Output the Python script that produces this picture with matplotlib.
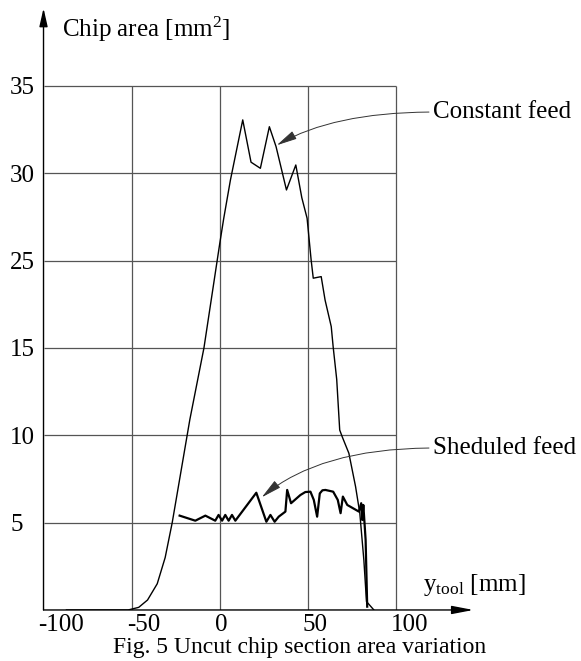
import matplotlib
matplotlib.use("Agg")
import matplotlib.pyplot as plt
from matplotlib.transforms import ScaledTranslation

plt.rcParams['font.family'] = ['Liberation Serif', 'DejaVu Serif']
plt.rcParams['mathtext.fontset'] = 'custom'
plt.rcParams['mathtext.rm'] = 'Liberation Serif'
plt.rcParams['mathtext.it'] = 'Liberation Serif:italic'

# ticks (the source figure skips "20" on the area axis)
x_ticks = [-100, -50, 0, 50, 100]
x_tick_labels = ['-100', '-50', '0', '50', '100']
y_ticks = [5, 10, 15, 20, 25, 30]
y_tick_labels = ['5', '10', '15', '25', '30', '35']

# constant feed curve
const_x = [-87, -52, -46, -41, -35.5, -31, -27, -17, -9, 0, 2.2, 6, 13, 17.7, 23, 28.1,
           31.9, 37.8, 43.1, 46.5, 49.5, 51.8, 53, 57.5, 59.7, 63.2, 64.3, 66.3, 68,
           69.4, 73.2, 77, 79.4, 81.7, 83.2, 87.4]
const_y = [0, 0, 0.15, 0.57, 1.5, 3.0, 5.0, 10.9, 15.0, 21.0, 22.4, 24.6, 28.05, 25.63, 25.28, 27.66,
           26.52, 24.04, 25.47, 23.6, 22.42, 20.03, 18.99, 19.08, 17.74, 16.22, 15.05, 13.2, 10.3,
           9.92, 8.97, 7.06, 5.54, 2.86, 0.48, 0]

# scheduled feed curve
sched_x = [-22.8, -13.9, -8.2, -2.6, -0.7, 1.3, 3.1, 5.0, 6.9, 8.8, 20.7, 26.4, 28.7, 31.1,
           33.4, 37.2, 38.2, 40.4, 45.7, 48.5, 51.4, 53.3, 55.2, 56.7, 58.2, 59.9, 64.3, 66.9,
           68.5, 69.8, 72.3, 78.9, 80.2, 80.8, 81.4, 82.7, 83.6]
sched_y = [5.40, 5.11, 5.40, 5.11, 5.44, 5.11, 5.44, 5.11, 5.44, 5.11, 6.71, 5.05, 5.44, 5.05,
           5.34, 5.63, 6.87, 6.11, 6.58, 6.75, 6.77, 6.30, 5.34, 6.67, 6.85, 6.87, 6.77, 6.30,
           5.54, 6.49, 6.01, 5.63, 6.11, 5.15, 6.01, 4.01, 0.19]

fig = plt.figure(figsize=(5.81, 6.61), dpi=100)
ax = fig.add_axes([0.0749, 0.0772, 0.7398, 0.9103])
ax.set_xlim(-100, 143.8)
ax.set_ylim(0, 34.44)

# grid box
ax.hlines(y_ticks, -100, 100, color='#555555', lw=0.9, zorder=1)
ax.vlines(x_ticks[1:], 0, 30, color='#555555', lw=0.9, zorder=1)

ax.plot(const_x, const_y, color='black', lw=1.0, zorder=3)
ax.plot(sched_x, sched_y, color='black', lw=1.6, zorder=3)

# axes with arrows
for s in ax.spines.values():
    s.set_visible(False)
ax.annotate('', xy=(0, 1), xytext=(0, 0), xycoords='axes fraction',
            arrowprops=dict(arrowstyle='-|>,head_length=1.1,head_width=0.25',
                            color='black', lw=1.0, shrinkA=0, shrinkB=0), annotation_clip=False)
ax.annotate('', xy=(1, 0), xytext=(0, 0), xycoords='axes fraction',
            arrowprops=dict(arrowstyle='-|>,head_length=1.3,head_width=0.25',
                            color='black', lw=1.0, shrinkA=0, shrinkB=0), annotation_clip=False)

ax.set_xticks(x_ticks)
ax.set_xticklabels(x_tick_labels)
ax.set_yticks(y_ticks)
ax.set_yticklabels(y_tick_labels)
ax.tick_params(axis='both', length=0, labelsize=18)
ax.tick_params(axis='y', pad=24)
ax.tick_params(axis='x', pad=3)
for lab in ax.get_yticklabels():
    lab.set_ha('left')
for lab in ax.get_xticklabels():
    lab.set_ha('left')
    lab.set_transform(lab.get_transform() + ScaledTranslation(-0.05, 0, fig.dpi_scale_trans))

# leaders
ax.annotate('Constant feed', xy=(32.3, 26.6), xytext=(121, 28.5), fontsize=18,
            ha='left', va='center',
            arrowprops=dict(arrowstyle='-|>,head_length=0.7,head_width=0.15', color='#333333',
                            lw=0.7, relpos=(0, 0.5), shrinkA=1, shrinkB=0,
                            connectionstyle='angle3,angleA=0,angleB=30'))
ax.annotate('Sheduled feed', xy=(23.8, 6.45), xytext=(121, 9.27), fontsize=18,
            ha='left', va='center',
            arrowprops=dict(arrowstyle='-|>,head_length=0.7,head_width=0.15', color='#333333',
                            lw=0.7, relpos=(0, 0.5), shrinkA=1, shrinkB=0,
                            connectionstyle='angle3,angleA=0,angleB=40'))

fig.text(62 / 581, 1 - 37 / 661, 'Chip area [mm$^2$]', fontsize=18, va='baseline', ha='left')
fig.text(423 / 581, 1 - 591 / 661, r'y$_{\mathrm{tool}}$ [mm]', fontsize=18, va='baseline', ha='left')
fig.text(300 / 581, 1 - 648 / 661, 'Fig. 5 Uncut chip section area variation', fontsize=17,
         ha='center', va='center')

fig.savefig('out.png', dpi=100)
